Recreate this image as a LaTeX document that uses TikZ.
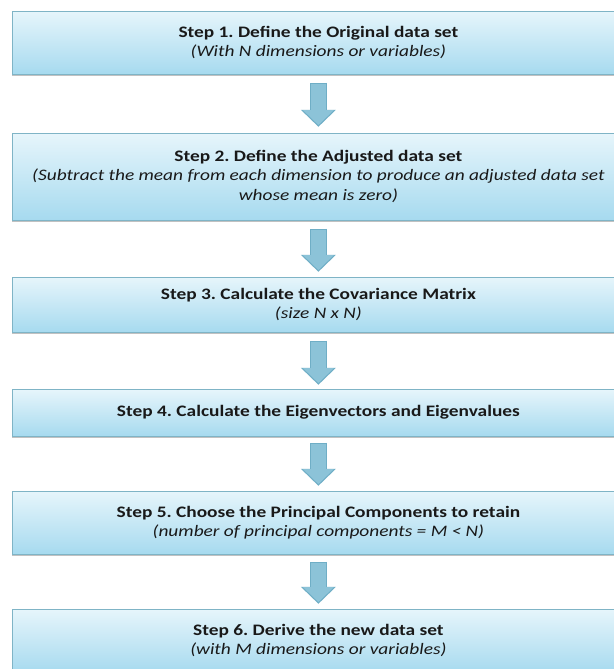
\documentclass[tikz,border=0pt]{standalone}
\usepackage{fontspec}
\usepackage{graphicx}
\setmainfont{Carlito}
\frenchspacing
\usetikzlibrary{arrows.meta,shadows,calc}
\definecolor{boxtop}{HTML}{E6F5FB}
\definecolor{boxbot}{HTML}{A6DAEF}
\definecolor{boxline}{HTML}{7FB4C6}
\definecolor{arrowfill}{HTML}{8CC3D8}
\definecolor{arrowline}{HTML}{6FAEC6}
\newcommand{\stxt}[1]{\scalebox{1.21}[1]{\begin{tabular}{@{}c@{}}#1\end{tabular}}}
\tikzset{
  stepbox/.style={anchor=north west, minimum width=612pt, inner sep=0pt,
    top color=boxtop, bottom color=boxbot, draw=boxline, line width=0.8pt,
    align=center, text=black!90, font=\fontsize{16}{19.5}\selectfont\frenchspacing,
    drop shadow={shadow xshift=0pt, shadow yshift=-2pt, opacity=0.4, fill=black!60}},
  flowout/.style={draw=arrowline, line width=17.5pt,
    -{Triangle[width=34pt,length=17pt,fill=arrowline]}},
  flow/.style={draw=arrowfill, line width=15pt,
    -{Triangle[width=30pt,length=15pt,fill=arrowfill]}}
}
\begin{document}
\begin{tikzpicture}[x=1pt,y=-1pt]
\useasboundingbox (0,0) rectangle (613,669);
\fill[white] (0,0) rectangle (613,669);
\node[stepbox, minimum height=63pt] (s1) at (12,11)
  {\stxt{\textbf{Step 1. Define the Original data set}\\\textit{(With N dimensions or variables)}}};
\node[stepbox, minimum height=87pt] (s2) at (12,133)
  {\stxt{\textbf{Step 2. Define the Adjusted data set}\\\textit{(Subtract the mean from each dimension to produce an adjusted data set}\\\textit{whose mean is zero)}}};
\node[stepbox, minimum height=55pt] (s3) at (12,277)
  {\stxt{\textbf{Step 3. Calculate the Covariance Matrix}\\\textit{(size N x N)}}};
\node[stepbox, minimum height=47pt] (s4) at (12,389)
  {\stxt{\textbf{Step 4. Calculate the Eigenvectors and Eigenvalues}}};
\node[stepbox, minimum height=63pt] (s5) at (12,491)
  {\stxt{\textbf{Step 5. Choose the Principal Components to retain}\\\textit{(number of principal components = M < N)}}};
\node[stepbox, minimum height=63pt] (s6) at (12,609)
  {\stxt{\textbf{Step 6. Derive the new data set}\\\textit{(with M dimensions or variables)}}};
\foreach \a/\b/\sa/\eb in {s1/s2/8/7, s2/s3/8/6, s3/s4/8/5, s4/s5/6/6, s5/s6/7/6}{
  \draw[flowout] ($(\a.south)+(0,\sa)$) -- ($(\b.north)+(0,-\eb+0.8)$);
  \draw[flow] ($(\a.south)+(0,\sa+0.9)$) -- ($(\b.north)+(0,-\eb-0.9)$);
}
\end{tikzpicture}
\end{document}
